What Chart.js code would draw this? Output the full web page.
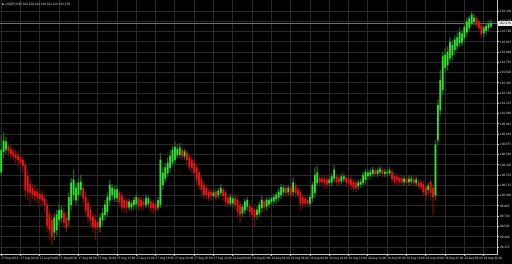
<!DOCTYPE html>
<html><head><meta charset="utf-8">
<script src="https://cdn.jsdelivr.net/npm/chart.js@4/dist/chart.umd.min.js"></script>
<style>html,body{margin:0;padding:0;background:#000;}#wrap{width:512px;height:264px;}</style>
</head><body><div id="wrap"><canvas id="c" width="512" height="264"></canvas></div>
<script>
const symbolName = 'USDJPY,M15';
const xTickLabels = ['27 Aug 2014','27 Aug 02:00','27 Aug 04:00','27 Aug 06:00','27 Aug 08:00','27 Aug 10:00','27 Aug 12:00','27 Aug 14:00','27 Aug 16:00','27 Aug 18:00','27 Aug 20:00','27 Aug 22:00','28 Aug 00:00','28 Aug 02:00','28 Aug 04:00','28 Aug 06:00','28 Aug 08:00','28 Aug 10:00','28 Aug 12:00','28 Aug 14:00','28 Aug 16:00','28 Aug 18:00','28 Aug 20:00','28 Aug 22:00','29 Aug 00:00','29 Aug 02:00'];
const yTicks = [102.430,102.295,102.160,102.025,101.890,101.755,101.620,101.485,101.350,101.215,101.080,100.945,100.810,100.675,100.540,100.405,100.270,100.135,100.000,99.865,99.730,99.595,99.460,99.325];
const opens = [100.31,100.58,100.61,100.65,100.61,100.58,100.54,100.52,100.50,100.47,
100.40,100.26,100.15,100.10,100.06,100.05,100.02,100.01,99.96,99.88,
99.75,99.68,99.52,99.55,99.68,99.71,99.77,99.71,99.68,99.88,
100.01,99.94,100.01,100.08,100.10,99.98,99.90,99.81,99.72,99.68,
99.65,99.59,99.68,99.75,99.79,99.94,100.01,99.97,99.97,100.04,
100.00,99.94,99.93,99.85,99.85,99.88,99.89,99.96,99.94,99.92,
99.88,99.90,99.92,99.90,99.89,99.85,99.88,100.14,100.23,100.30,
100.37,100.44,100.47,100.54,100.54,100.60,100.52,100.56,100.51,100.47,
100.43,100.37,100.30,100.21,100.14,100.10,100.05,100.05,100.00,100.05,
100.01,100.04,100.08,100.04,99.97,99.90,99.90,99.97,99.94,99.88,
99.77,99.81,99.86,99.86,99.84,99.81,99.75,99.77,99.84,99.92,
99.86,99.89,99.92,99.93,99.96,99.98,100.01,100.05,100.10,100.05,
100.11,100.05,100.13,100.08,100.04,99.98,99.96,99.94,99.90,99.97,
100.04,100.17,100.23,100.22,100.22,100.21,100.17,100.18,100.23,100.25,
100.23,100.19,100.22,100.23,100.22,100.21,100.18,100.17,100.13,100.15,
100.17,100.21,100.26,100.27,100.29,100.33,100.29,100.31,100.34,100.29,
100.30,100.30,100.31,100.26,100.25,100.23,100.23,100.18,100.22,100.18,
100.19,100.21,100.17,100.18,100.17,100.15,100.11,100.08,100.18,100.10,
100.01,100.73,101.13,101.39,101.69,101.72,101.81,101.85,101.92,101.97,
102.01,102.02,102.08,102.15,102.21,102.27,102.29,102.33,102.29,102.23,
102.14,102.17,102.21,102.23];
const closes = [100.60,100.72,100.71,100.59,100.55,100.52,100.50,100.47,100.43,100.40,
100.08,100.05,100.04,100.01,100.00,99.98,99.96,99.94,99.88,99.61,
99.55,99.46,99.71,99.75,99.81,99.81,99.65,99.58,99.98,100.17,
100.21,100.10,100.17,100.18,99.97,99.81,99.72,99.68,99.59,99.58,
99.58,99.71,99.77,99.88,99.98,100.14,100.10,100.08,100.08,99.92,
99.85,99.84,99.85,99.92,99.90,99.94,99.98,99.86,99.86,99.88,
99.97,99.96,99.84,99.84,99.82,99.94,100.47,100.30,100.37,100.43,
100.52,100.60,100.64,100.61,100.63,100.52,100.58,100.47,100.38,100.37,
100.30,100.21,100.14,100.08,100.01,100.01,99.98,100.00,100.04,99.98,
100.06,100.10,100.00,99.92,99.90,99.98,99.96,99.88,99.79,99.75,
99.85,99.92,99.94,99.79,99.75,99.72,99.81,99.88,99.94,99.85,
99.94,99.94,99.96,99.98,100.01,100.05,100.11,100.10,100.04,100.10,
100.01,100.17,100.04,100.01,99.90,99.90,99.90,99.90,99.98,100.14,
100.27,100.30,100.18,100.18,100.17,100.15,100.21,100.25,100.34,100.18,
100.18,100.25,100.25,100.18,100.17,100.14,100.11,100.10,100.17,100.18,
100.27,100.31,100.30,100.31,100.34,100.29,100.33,100.35,100.29,100.31,
100.31,100.33,100.22,100.18,100.21,100.19,100.18,100.22,100.17,100.22,
100.22,100.17,100.21,100.13,100.11,100.05,100.01,100.13,100.04,99.98,
100.67,101.19,101.52,101.83,101.85,101.89,102.02,101.98,102.05,102.08,
102.15,102.13,102.22,102.29,102.33,102.38,102.34,102.25,102.21,102.13,
102.21,102.23,102.26,102.27];
const highs = [100.79,100.83,100.77,100.69,100.67,100.63,100.60,100.58,100.54,100.51,
100.44,100.34,100.23,100.15,100.13,100.10,100.08,100.06,100.01,99.94,
99.81,99.75,99.76,99.81,99.89,99.86,99.84,99.77,100.04,100.23,
100.34,100.17,100.23,100.27,100.15,100.05,99.97,99.88,99.77,99.75,
99.71,99.76,99.84,99.94,100.04,100.21,100.15,100.13,100.14,100.08,
100.04,99.98,99.97,99.96,99.94,99.98,100.02,100.00,99.98,99.96,
100.01,100.00,99.96,99.94,99.93,99.98,100.56,100.37,100.43,100.50,
100.59,100.65,100.71,100.67,100.69,100.64,100.61,100.60,100.55,100.51,
100.47,100.40,100.34,100.26,100.19,100.14,100.10,100.09,100.08,100.09,
100.10,100.15,100.11,100.08,100.01,100.02,100.00,100.01,99.98,99.92,
99.89,99.96,99.98,99.90,99.88,99.85,99.85,99.92,100.00,99.96,
99.98,99.98,100.00,100.02,100.05,100.09,100.15,100.14,100.14,100.14,
100.15,100.23,100.17,100.11,100.08,100.02,100.00,99.98,100.02,100.18,
100.37,100.39,100.27,100.26,100.26,100.25,100.25,100.29,100.40,100.29,
100.27,100.29,100.29,100.27,100.26,100.25,100.22,100.21,100.21,100.22,
100.31,100.35,100.34,100.35,100.38,100.37,100.37,100.39,100.38,100.35,
100.34,100.37,100.35,100.30,100.29,100.27,100.27,100.26,100.26,100.26,
100.26,100.25,100.25,100.22,100.21,100.19,100.15,100.17,100.21,100.14,
100.73,101.26,101.65,101.89,101.94,101.96,102.08,102.05,102.10,102.14,
102.21,102.18,102.27,102.34,102.36,102.42,102.39,102.36,102.31,102.26,
102.23,102.27,102.30,102.31];
const lows = [100.26,100.50,100.56,100.52,100.50,100.47,100.43,100.39,100.37,100.31,
99.98,99.94,99.88,99.96,99.93,99.90,99.88,99.86,99.79,99.52,
99.42,99.35,99.42,99.48,99.61,99.65,99.58,99.52,99.61,99.81,
99.94,99.88,99.94,100.01,99.90,99.75,99.65,99.60,99.52,99.42,
99.51,99.52,99.61,99.68,99.72,99.88,99.94,99.92,99.92,99.86,
99.79,99.79,99.77,99.81,99.80,99.82,99.84,99.81,99.81,99.82,
99.84,99.85,99.79,99.77,99.77,99.80,99.84,100.08,100.18,100.25,
100.31,100.39,100.42,100.50,100.50,100.47,100.48,100.42,100.34,100.31,
100.25,100.15,100.08,100.02,99.96,99.96,99.93,99.94,99.96,99.94,
99.97,100.00,99.94,99.86,99.85,99.86,99.85,99.82,99.72,99.65,
99.72,99.76,99.81,99.73,99.68,99.59,99.69,99.72,99.79,99.80,
99.81,99.85,99.88,99.89,99.90,99.93,99.96,100.00,99.98,100.01,
99.96,100.00,99.98,99.96,99.81,99.85,99.85,99.86,99.86,99.92,
99.98,100.13,100.13,100.14,100.11,100.10,100.13,100.13,100.18,100.13,
100.13,100.15,100.18,100.13,100.11,100.08,100.06,100.05,100.08,100.11,
100.13,100.15,100.21,100.23,100.25,100.25,100.25,100.27,100.25,100.25,
100.26,100.26,100.18,100.14,100.15,100.14,100.13,100.14,100.11,100.14,
100.15,100.13,100.13,100.09,100.08,100.00,99.94,100.02,99.94,99.75,
99.94,100.67,101.06,101.33,101.63,101.65,101.76,101.79,101.86,101.92,
101.96,101.97,102.02,102.10,102.17,102.23,102.25,102.21,102.17,102.08,
102.09,102.13,102.17,102.21];

const SLOTS = 206;          // candle slots on the time axis (2 empty at right)
const PER_LABEL = 8;        // candles between time labels
const slots = Array.from({length: SLOTS}, (_, i) => i);

const BULL = '#2ee62e', BEAR = '#f21414';
const BULL_WICK = '#246024', BEAR_WICK = '#661010';
const GRID = '#2a2a2a', AXIS = '#c8c8c8', TXT = '#cfcfcf';
const FONT = 'Liberation Sans Narrow, DejaVu Sans Condensed, DejaVu Sans';
const FS = 3;

const isBull = opens.map((o, i) => closes[i] >= o);

const overlay = {
  id: 'overlay',
  beforeDatasetsDraw(chart) {
    const ctx = chart.ctx, a = chart.chartArea, y = chart.scales.y;
    const last = closes[closes.length - 1];
    const py = Math.round(y.getPixelForValue(last)) + 0.5;
    ctx.save();
    ctx.strokeStyle = '#6e6e6e'; ctx.lineWidth = 1;
    ctx.beginPath(); ctx.moveTo(a.left, py); ctx.lineTo(a.right, py); ctx.stroke();
    ctx.restore();
  },
  afterDraw(chart) {
    const ctx = chart.ctx, a = chart.chartArea, y = chart.scales.y;
    const n = closes.length - 1;
    const last = closes[n];
    const py = Math.round(y.getPixelForValue(last));
    ctx.save();
    ctx.fillStyle = '#e6e6e6';
    ctx.fillRect(a.right + 1, py - 2, 14, 5);
    ctx.fillStyle = '#000';
    ctx.font = FS + 'px ' + FONT;
    ctx.textBaseline = 'middle'; ctx.textAlign = 'left';
    ctx.fillText(last.toFixed(3), a.right + 2.5, py + 0.5);
    // title
    ctx.fillStyle = TXT;
    ctx.fillRect(2, 3.5, 1.5, 1.5);
    ctx.fillText(symbolName + ' ' + [opens[n], highs[n], lows[n], closes[n]].map(v => v.toFixed(3)).join(' '), 5.5, 4.5);
    ctx.restore();
  }
};

new Chart(document.getElementById('c'), {
  type: 'bar',
  data: {
    labels: slots,
    datasets: [
      {
        label: 'body',
        data: opens.map((o, i) => [o, closes[i]]),
        backgroundColor: isBull.map(b => b ? BULL : BEAR),
        barThickness: 1.15,
        grouped: false,
        borderWidth: 0
      },
      {
        label: 'wick',
        data: lows.map((l, i) => [l, highs[i]]),
        backgroundColor: isBull.map(b => b ? BULL_WICK : BEAR_WICK),
        barThickness: 0.7,
        grouped: false,
        borderWidth: 0
      }
    ]
  },
  options: {
    responsive: false,
    animation: false,
    events: [],
    layout: { padding: 0 },
    plugins: { legend: { display: false }, tooltip: { enabled: false }, title: { display: false } },
    scales: {
      x: {
        type: 'category',
        offset: true,
        grid: { offset: false, color: GRID, lineWidth: 1, tickLength: 2, tickColor: AXIS },
        border: { display: true, color: AXIS, width: 1 },
        ticks: {
          autoSkip: false, maxRotation: 0, minRotation: 0, align: 'start', padding: 0.5,
          color: TXT, font: { family: FONT, size: FS },
          callback: (v) => xTickLabels[v / PER_LABEL] || ''
        },
        afterBuildTicks: (s) => { s.ticks = s.ticks.filter(t => t.value % PER_LABEL === 0); },
        afterFit: (s) => { s.height = 10; s.paddingLeft = 0; s.paddingRight = 0; }
      },
      y: {
        type: 'linear',
        position: 'right',
        min: 99.233,
        max: 102.575,
        grid: { color: GRID, lineWidth: 1, tickLength: 2, tickColor: AXIS },
        border: { display: true, color: AXIS, width: 1 },
        ticks: {
          color: TXT, font: { family: FONT, size: FS }, padding: 1,
          callback: (v) => Number(v).toFixed(3)
        },
        afterBuildTicks: (s) => { s.ticks = yTicks.map(v => ({ value: v })); },
        afterFit: (s) => { s.width = 15; s.paddingTop = 0; s.paddingBottom = 0; }
      }
    }
  },
  plugins: [overlay]
});
</script>
</body></html>
